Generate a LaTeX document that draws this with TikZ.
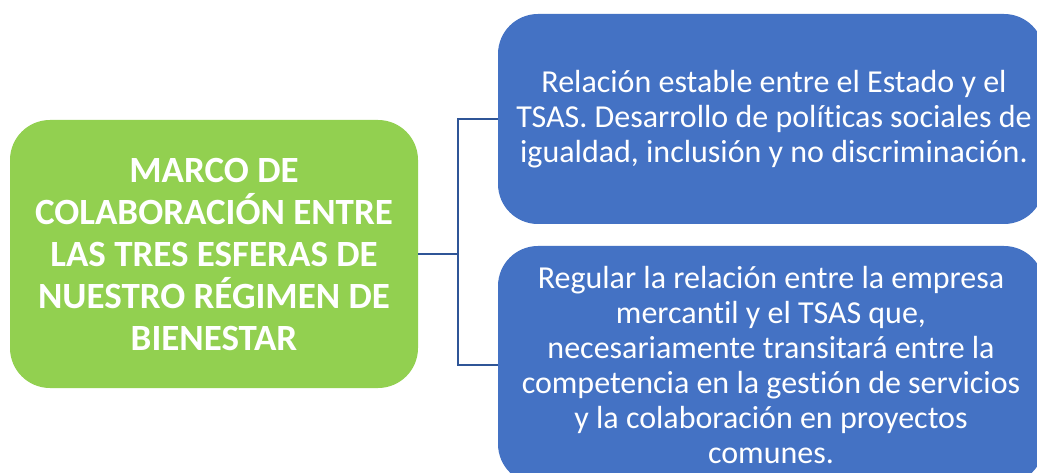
\documentclass[tikz,border=0pt]{standalone}
\usepackage{fontspec}
\setmainfont{Carlito}[Ligatures={NoCommon}]
\definecolor{grn}{HTML}{92D050}
\definecolor{blu}{HTML}{4472C4}
\definecolor{lnc}{HTML}{2F5597}
\tikzset{
  greenbox/.style={fill=grn, draw=none, rounded corners=40pt, text=white, align=center,
    font=\fontsize{37}{42}\selectfont\bfseries, inner sep=0pt},
  bluebox/.style={fill=blu, draw=none, rounded corners=40pt, inner sep=0pt},
  bluetext/.style={text=white, align=center, font=\fontsize{32}{35}\selectfont, inner sep=0pt},
  conn/.style={draw=lnc, line width=2.5pt}
}
\begin{document}
\begin{tikzpicture}[x=1pt,y=-1pt]
\clip (0,0) rectangle (1037,473);
\fill[white] (0,0) rectangle (1037,473);
\node[greenbox, minimum width=408pt, minimum height=268pt] (g) at (214,254)
  {MARCO DE\\COLABORACIÓN ENTRE\\LAS TRES ESFERAS DE\\NUESTRO RÉGIMEN DE\\BIENESTAR};
\node[bluebox, minimum width=546pt, minimum height=210pt] (b1) at (771,119) {};
\node[bluetext] (t1) at (774,119)
  {Relación estable entre el Estado y el\\TSAS. Desarrollo de políticas sociales de\\igualdad, inclusión y no discriminación.};
\node[bluebox, minimum width=546pt, minimum height=238pt] (b2) at (771,365) {};
\node[bluetext] (t2) at (771,365)
  {Regular la relación entre la empresa\\mercantil y el TSAS que,\\necesariamente transitará entre la\\competencia en la gestión de servicios\\y la colaboración en proyectos\\comunes.};
\coordinate (j) at (458,254);
\draw[conn] (g.east) -- (j);
\draw[conn] (j) |- (b1.west);
\draw[conn] (j) |- (b2.west);
\end{tikzpicture}
\end{document}
